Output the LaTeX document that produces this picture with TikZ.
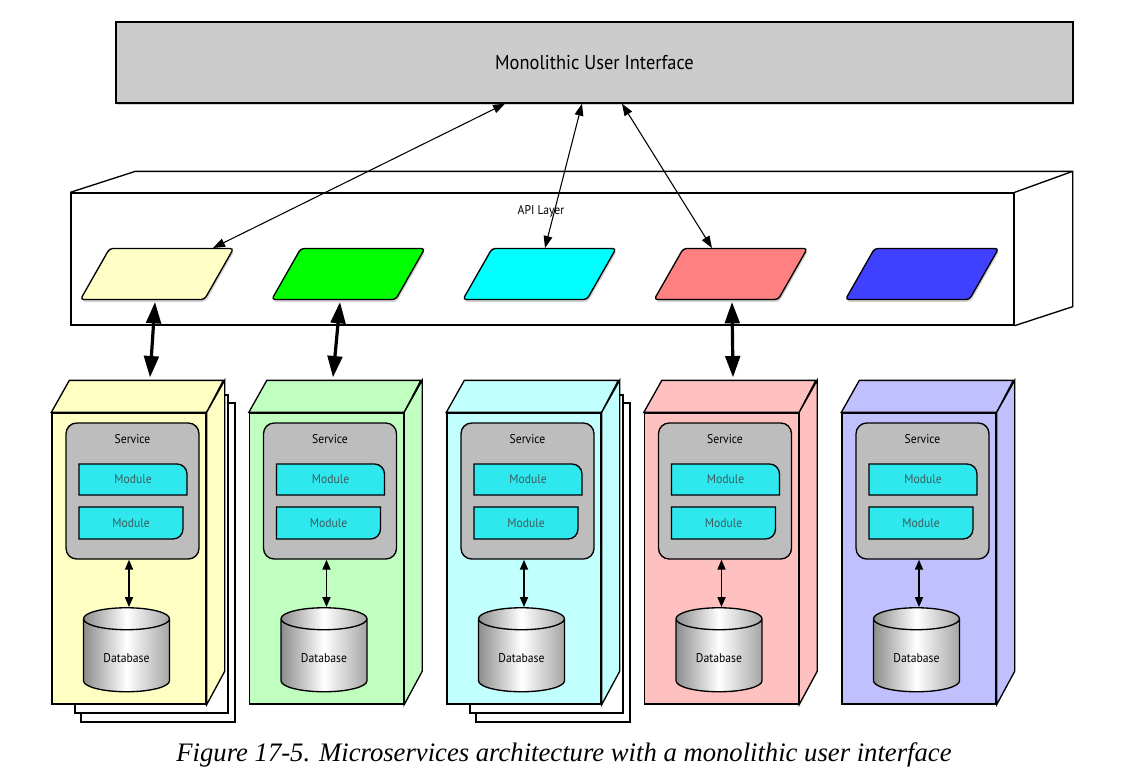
\documentclass[tikz,border=0pt]{standalone}
\usepackage{fontspec}
\usepackage{tikz}
\usetikzlibrary{calc,positioning,shapes.geometric,shadows,arrows.meta}
\newfontfamily\condfont[FakeStretch=0.92]{PT Sans}
\newfontfamily\capfont{Liberation Serif}
\definecolor{uigray}{HTML}{CCCCCC}
\definecolor{svcgray}{HTML}{BDBDBD}
\definecolor{modcyan}{HTML}{2EE8EE}
\definecolor{modink}{HTML}{3E5A5C}
\definecolor{gwyellow}{HTML}{FFFFC6}
\definecolor{gwgreen}{HTML}{00FF00}
\definecolor{gwcyan}{HTML}{00FFFF}
\definecolor{gwred}{HTML}{FF8080}
\definecolor{gwblue}{HTML}{4040FF}
\definecolor{svcyellow}{HTML}{FFFFC4}
\definecolor{svcgreen}{HTML}{C0FFC0}
\definecolor{svccyan}{HTML}{C2FFFF}
\definecolor{svcred}{HTML}{FFC0C0}
\definecolor{svcblue}{HTML}{C0C0FF}

% two sheets behind a service column
\newcommand{\pagestack}[1]{%
	\draw[fill=white] (#1-48,403) rectangle (#1+106,722);
	\draw[fill=white] (#1-54,395) rectangle (#1+99,713);
}
% one service column: name, x of front face, colour
\newcommand{\svccolumn}[3]{%
	\node[svcfront, fill=#3] (#1front) at (#2,558.5) {};
	\draw[fill=#3] (#1front.north west) -- ++(18,-32) -- ++(154,0) -- (#1front.north east) -- cycle;
	\draw[fill=#3] (#1front.north east) -- ++(18,-32) -- ++(0,291) -- (#1front.south east) -- cycle;
	\coordinate (#1top) at ($(#1front.north)+(18,-32)$);
	\node[svcbox] (#1svc) at ($(#1front.center)+(3.5,-67.5)$) {};
	\node[svctext] (#1svclabel) at ($(#1svc.north)+(0,17)$) {Service};
	\draw[modshape] (#2-50,495) -- (#2-50,464) -- (#2+48,464) arc[start angle=90, end angle=0, radius=7.5pt] -- (#2+58,495) -- cycle;
	\node[modtext] (#1modA) at (#2+4,479.5) {Module};
	\draw[modshape] (#2-50,539) -- (#2-50,507) -- (#2+54,507) -- (#2+54,529) arc[start angle=0, end angle=-90, radius=7.5pt] -- cycle;
	\node[modtext] (#1modB) at (#2+2,523) {Module};
	\node[dbase] (#1db) at (#2-2.5,658) {Database};
	\draw[dbarrow] (#1svc.south -| #1front.center) -- (#1db.north -| #1front.center);
}

\begin{document}
\begin{tikzpicture}[x=0.75pt, y=-0.75pt, line width=1pt,
	uibox/.style={draw, fill=uigray, minimum width=717.75pt, minimum height=60.75pt,
		font=\condfont\fontsize{15}{18}\selectfont,
		drop shadow={shadow xshift=1pt, shadow yshift=-1.5pt, opacity=0.35}},
	apibox/.style={draw, fill=white, minimum width=707.25pt, minimum height=99pt},
	gateway/.style={draw, rounded corners=2.5pt, minimum width=93pt, minimum height=38.25pt, inner sep=0pt,
		xslant=0.57, transform shape,
		drop shadow={shadow xshift=0.8pt, shadow yshift=-1.8pt, opacity=0.35}},
	svcfront/.style={draw, minimum width=115.5pt, minimum height=218.25pt},
	svcbox/.style={draw, fill=svcgray, rounded corners=8pt, minimum width=99.75pt, minimum height=102pt},
	svctext/.style={font=\condfont\fontsize{9.5}{11}\selectfont},
	modshape/.style={draw, fill=modcyan},
	modtext/.style={text=modink, font=\condfont\fontsize{9.5}{11}\selectfont},
	dbase/.style={cylinder, shape border rotate=90, aspect=0.4, draw, minimum width=64.5pt, minimum height=63pt,
		path picture={\shade[left color=black!45, right color=black!35, middle color=white]
			(path picture bounding box.south west) rectangle (path picture bounding box.north east);},
		font=\condfont\fontsize{9.5}{11}\selectfont},
	uiarrow/.style={{Triangle[length=9pt,width=6.5pt]}-{Triangle[length=9pt,width=6.5pt]}, line width=0.8pt},
	apiarrow/.style={{Triangle[length=16pt,width=11pt]}-{Triangle[length=16pt,width=11pt]}, line width=2.4pt},
	dbarrow/.style={{Triangle[length=7.5pt,width=6pt]}-{Triangle[length=7.5pt,width=6pt]}, line width=1.3pt}]
	\useasboundingbox (0,0) rectangle (1131,783);

	% Monolithic user interface on top
	\node[uibox] (ui) at (594.5,62.5) {Monolithic User Interface};

	% API layer, drawn as an open box
	\node[apibox] (api) at (542.5,259) {};
	\draw (api.north west) -- ++(65,-21) -- ($(api.north east)+(58,-21)$) -- ($(api.south east)+(58,-19)$) -- (api.south east);
	\draw (api.north east) -- ++(58,-21);
	\node[svctext] (apilabel) at (541,211) {API Layer};

	% One gateway per service
	\node[gateway, fill=gwyellow] (gwA) at (157,274) {};
	\node[gateway, fill=gwgreen] (gwB) at (348.25,274) {};
	\node[gateway, fill=gwcyan] (gwC) at (539.5,274) {};
	\node[gateway, fill=gwred] (gwD) at (730.75,274) {};
	\node[gateway, fill=gwblue] (gwE) at (922,274) {};

	% Services with their own databases
	\pagestack{129}
	\svccolumn{A}{129}{svcyellow}
	\svccolumn{B}{326.5}{svcgreen}
	\pagestack{524}
	\svccolumn{C}{524}{svccyan}
	\svccolumn{D}{721.5}{svcred}
	\svccolumn{E}{919}{svcblue}

	% User interface to gateways
	\draw[uiarrow] ($(ui.south)+(-89.5,0)$) -- ($(gwA.center)+(56,-26)$);
	\draw[uiarrow] ($(ui.south)+(-12.5,0)$) -- ($(gwC.center)+(5.5,-26)$);
	\draw[uiarrow] ($(ui.south)+(27.5,0)$) -- ($(gwD.center)+(-18.75,-26)$);

	% Gateways to services
	\draw[apiarrow] ($(gwA.center)+(-2,28)$) -- ($(Atop)+(3,-3)$);
	\draw[apiarrow] ($(gwB.center)+(-8.25,28)$) -- ($(Btop)+(-11.5,-3)$);
	\draw[apiarrow] ($(gwD.center)+(1.25,28)$) -- ($(Dtop)+(-6.5,-3)$);

	% Caption
	\node[font=\capfont\itshape\fontsize{20}{24}\selectfont] (caption) at (564,755) {Figure 17-5. Microservices architecture with a monolithic user interface};
\end{tikzpicture}
\end{document}
